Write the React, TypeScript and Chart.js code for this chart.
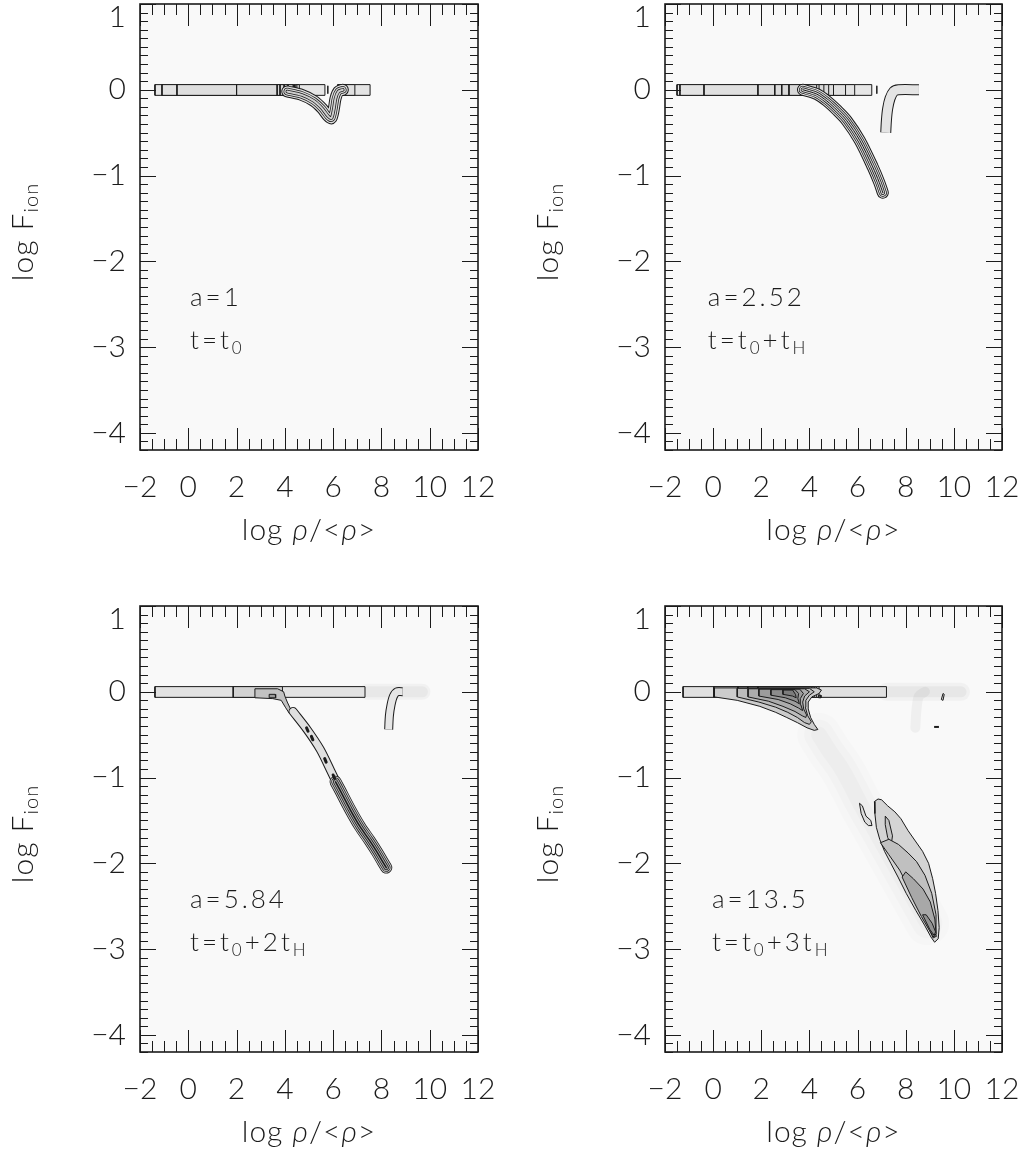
import React, { useEffect, useRef } from "react";
import { Chart, registerables } from "chart.js";

Chart.register(...registerables);

type Pt = [number, number];
type Seg = [string, string];

// ---------- axes ----------
const X_RANGE: [number, number] = [-2, 12];
const Y_RANGE: [number, number] = [-4.2, 1.0];
const X_TICK_VALUES = [-2, 0, 2, 4, 6, 8, 10, 12];
const X_TICK_LABELS = ["−2", "0", "2", "4", "6", "8", "10", "12"];
const Y_TICK_VALUES = [1, 0, -1, -2, -3, -4];
const Y_TICK_LABELS = ["1", "0", "−1", "−2", "−3", "−4"];
const X_MINOR_STEP = 0.5;
const Y_MINOR_STEP = 0.1;
const X_TITLE: Seg[] = [["log ", "n"], ["ρ", "i"], ["/<", "n"], ["ρ", "i"], [">", "n"]];
const Y_TITLE: Seg[] = [["log F", "n"], ["ion", "s"]];

// ---------- panel annotations ----------
const A_LABELS: Seg[][] = [[["a=1", "n"]], [["a=2.52", "n"]], [["a=5.84", "n"]], [["a=13.5", "n"]]];
const T_LABELS: Seg[][] = [
  [["t=t", "n"], ["0", "s"]],
  [["t=t", "n"], ["0", "s"], ["+t", "n"], ["H", "s"]],
  [["t=t", "n"], ["0", "s"], ["+2t", "n"], ["H", "s"]],
  [["t=t", "n"], ["0", "s"], ["+3t", "n"], ["H", "s"]],
];
const ANNOT_X = [0.07, -0.22, 0.07, -0.05];
const ANNOT_Y_A = -2.42;
const ANNOT_Y_T = -2.93;

// ---------- panel 1 (a=1) ----------
const P1_BAR: Pt = [-1.38, 5.66];
const P1_BAR_STEPS: Pt[] = [[-1.09, 4.6], [-0.47, 4.5], [2.0, 4.45], [3.68, 4.4], [3.8, 4.38], [3.97, 4.36], [4.13, 4.34]];
const P1_BAR_RIGHT: Pt = [6.2, 7.53];
const P1_BAR_RIGHT_STEP: Pt = [6.2, 6.9];
const P1_DIP: Pt[] = [[4.1, -0.02], [4.7, -0.06], [5.2, -0.13], [5.55, -0.22], [5.8, -0.31], [5.93, -0.33], [6.03, -0.22], [6.1, -0.1], [6.22, -0.02], [6.4, 0.0]];
const P1_MARK: Pt[] = [[5.78, 0.04], [5.78, -0.04]];

// ---------- panel 2 (a=2.52) ----------
const P2_BAR: Pt = [-1.5, 6.59];
const P2_BAR_STEPS: Pt[] = [[-1.38, 5.88], [-0.38, 5.5], [1.86, 5.0], [2.56, 4.8], [2.85, 4.6], [3.15, 4.4], [3.73, 4.3]];
const P2_DIAG: Pt[] = [[3.73, 0.0], [4.3, -0.05], [4.72, -0.13], [5.15, -0.24], [5.55, -0.36], [6.09, -0.59], [6.63, -0.9], [6.9, -1.08], [7.05, -1.2]];
const P2_HOOK: Pt[] = [[8.55, 0.0], [7.7, 0.0], [7.5, -0.02], [7.35, -0.1], [7.25, -0.22], [7.2, -0.35], [7.17, -0.5]];
const P2_MARK: Pt[] = [[6.8, 0.04], [6.8, -0.04]];

// ---------- panel 3 (a=5.84) ----------
const P3_BAR: Pt = [-1.38, 7.32];
const P3_INNER: Pt = [1.86, 3.9];
const P3_BLOB: Pt[] = [[2.76, 0.035], [3.7, 0.035], [3.95, 0.0], [4.0, -0.05], [4.1, -0.12], [4.25, -0.21], [4.18, -0.25], [4.02, -0.18], [3.85, -0.1], [3.5, -0.08], [2.76, -0.07]];
const P3_BLOB_CORE: Pt[] = [[3.35, -0.03], [3.6, -0.03], [3.62, -0.07], [3.35, -0.07]];
const P3_HAZE: Pt[] = [[7.4, 0.0], [9.7, 0.0]];
const P3_STREAK_UP: Pt[] = [[4.34, -0.23], [4.92, -0.44], [5.46, -0.67], [5.9, -0.92], [6.29, -1.15]];
const P3_STREAK_LOW: Pt[] = [[6.1, -1.05], [6.29, -1.15], [6.7, -1.37], [7.11, -1.57], [7.5, -1.73], [7.82, -1.87], [8.05, -1.98], [8.2, -2.05]];
const P3_STREAK_DOTS: Pt[] = [[4.9, -0.42], [5.1, -0.52], [5.65, -0.78], [6.0, -0.97]];
const P3_HOOK: Pt[] = [[8.88, 0.0], [8.65, 0.0], [8.5, -0.05], [8.4, -0.15], [8.33, -0.28], [8.3, -0.44]];

// ---------- panel 4 (a=13.5) ----------
const P4_BAR: Pt = [-1.25, 7.2];
const P4_BAR_STEPS: Pt[] = [[0.03, 4.4], [1.03, 4.3], [1.44, 4.2], [1.86, 4.1]];
const P4_FAN_1: Pt[] = [[0.05, -0.06], [1.0, -0.1], [1.94, -0.17], [2.6, -0.24], [3.06, -0.3], [3.5, -0.36], [3.9, -0.42], [4.2, -0.45], [4.35, -0.44], [4.2, -0.38], [4.05, -0.3], [3.95, -0.2], [3.95, -0.12], [4.1, -0.06], [4.4, -0.02], [4.5, 0.02], [4.3, 0.045], [0.05, 0.045]];
const P4_FAN_2: Pt[] = [[1.0, -0.06], [1.9, -0.12], [2.6, -0.18], [3.1, -0.24], [3.5, -0.3], [3.8, -0.36], [4.0, -0.38], [4.08, -0.35], [3.93, -0.28], [3.83, -0.18], [3.85, -0.1], [4.0, -0.04], [4.2, 0.0], [4.0, 0.04], [1.0, 0.04]];
const P4_FAN_3: Pt[] = [[1.45, -0.06], [2.3, -0.11], [2.9, -0.17], [3.4, -0.23], [3.7, -0.28], [3.85, -0.3], [3.88, -0.27], [3.76, -0.2], [3.72, -0.12], [3.8, -0.05], [4.0, 0.0], [3.8, 0.035], [1.45, 0.035]];
const P4_FAN_4: Pt[] = [[1.9, -0.05], [2.7, -0.09], [3.2, -0.14], [3.55, -0.19], [3.72, -0.22], [3.64, -0.15], [3.62, -0.08], [3.75, -0.02], [3.6, 0.03], [1.9, 0.03]];
const P4_FAN_5: Pt[] = [[2.4, -0.04], [3.0, -0.07], [3.4, -0.11], [3.58, -0.14], [3.52, -0.08], [3.55, -0.02], [3.4, 0.025], [2.4, 0.025]];
const P4_FAN_6: Pt[] = [[2.9, -0.03], [3.3, -0.05], [3.45, -0.07], [3.42, -0.03], [3.3, 0.02], [2.9, 0.02]];
const P4_DOT: Pt[] = [[4.38, -0.04], [4.48, -0.04], [4.48, -0.07], [4.38, -0.07]];
const P4_HAZE_RIGHT: Pt[] = [[7.2, 0.0], [10.3, 0.0]];
const P4_HAZE_HOOK: Pt[] = [[8.8, 0.0], [8.55, -0.05], [8.45, -0.2], [8.4, -0.42]];
const P4_CLOUD: Pt[] = [[4.4, -0.5], [4.8, -0.68], [5.3, -0.88], [5.7, -1.08], [6.1, -1.3], [6.7, -1.6], [7.4, -1.95], [8.2, -2.35], [8.9, -2.7]];
const P4_ISLAND_L: Pt[] = [[6.08, -1.3], [6.2, -1.33], [6.35, -1.45], [6.55, -1.5], [6.6, -1.56], [6.45, -1.56], [6.3, -1.52], [6.15, -1.42]];
const P4_BLOB_1: Pt[] = [[6.7, -1.28], [6.72, -1.42], [6.78, -1.58], [6.92, -1.72], [7.12, -1.86], [7.38, -2.0], [7.68, -2.16], [8.02, -2.35], [8.42, -2.55], [8.78, -2.72], [9.05, -2.86], [9.2, -2.92], [9.35, -2.88], [9.39, -2.75], [9.34, -2.55], [9.24, -2.35], [9.12, -2.18], [8.95, -2.0], [8.7, -1.86], [8.4, -1.74], [8.1, -1.62], [7.8, -1.48], [7.55, -1.4], [7.25, -1.33], [7.0, -1.26], [6.85, -1.25]];
const P4_ISLAND_M: Pt[] = [[7.15, -1.45], [7.3, -1.5], [7.45, -1.68], [7.4, -1.78], [7.25, -1.7], [7.15, -1.55]];
const P4_BLOB_2: Pt[] = [[6.95, -1.76], [7.3, -1.9], [7.75, -2.08], [8.15, -2.3], [8.55, -2.53], [8.92, -2.74], [9.14, -2.87], [9.28, -2.85], [9.26, -2.6], [9.08, -2.35], [8.8, -2.14], [8.45, -1.98], [8.1, -1.88], [7.7, -1.78], [7.3, -1.72]];
const P4_BLOB_3: Pt[] = [[7.85, -2.16], [8.25, -2.4], [8.65, -2.62], [8.98, -2.78], [9.17, -2.86], [9.26, -2.82], [9.21, -2.65], [9.02, -2.45], [8.72, -2.3], [8.32, -2.18], [8.0, -2.1]];
const P4_BLOB_4: Pt[] = [[8.7, -2.6], [9.0, -2.77], [9.18, -2.84], [9.24, -2.8], [9.1, -2.7], [8.85, -2.6]];
const P4_SMALL_LOOP: Pt[] = [[9.48, -0.09], [9.55, -0.02], [9.6, -0.03], [9.55, -0.1]];
const P4_DASH: Pt[] = [[9.18, -0.41], [9.38, -0.41]];

// ---------- styles ----------
const W = 1031;
const H = 1156;
const BOXES = [
  { left: 140, top: 4, right: 478, bottom: 450 },
  { left: 665, top: 4, right: 1002, bottom: 450 },
  { left: 140, top: 606, right: 478, bottom: 1052 },
  { left: 665, top: 606, right: 1002, bottom: 1052 },
];
const INK = "#1b1b1b";
const PLOT_BG = "#f9f9f9";
const FAM = 'Lato, "DejaVu Sans", sans-serif';
const FW = "300";
const BAR_HALF_LO = -0.065;
const BAR_HALF_HI = 0.06;

const toXY = (pts: Pt[]) => pts.map(([x, y]) => ({ x, y }));
const rect = (x0: number, x1: number, y0: number, y1: number): Pt[] => [[x0, y0], [x1, y0], [x1, y1], [x0, y1]];

function poly(pts: Pt[], fillColor: string, lw = 1, stroke = INK): any {
  return {
    data: toXY([...pts, pts[0]]),
    fill: "shape",
    backgroundColor: fillColor,
    borderColor: stroke,
    borderWidth: lw,
    pointRadius: 0,
    tension: 0,
  };
}
function band(pts: Pt[], layers: [number, string][], cap = "round", tension = 0.3): any[] {
  return layers.map(([w, c]) => ({
    data: toXY(pts),
    fill: false,
    borderColor: c,
    borderWidth: w,
    borderCapStyle: cap,
    borderJoinStyle: "round",
    pointRadius: 0,
    tension,
  }));
}
const barRect = (r: Pt, fillColor: string) => poly(rect(r[0], r[1], BAR_HALF_LO, BAR_HALF_HI), fillColor);

function panel1(): any[] {
  const ds: any[] = [];
  ds.push(barRect(P1_BAR, "#e6e6e6"));
  const fills = ["#e2e2e2", "#dedede", "#dadada", "#d8d8d8", "#d6d6d6", "#d4d4d4", "#d2d2d2"];
  P1_BAR_STEPS.forEach((s, i) => ds.push(barRect(s, fills[i])));
  ds.push(barRect(P1_BAR_RIGHT, "#e4e4e4"));
  ds.push(barRect(P1_BAR_RIGHT_STEP, "#e0e0e0"));
  ds.push(...band(P1_DIP, [[12, INK], [10, "#e0e0e0"], [7.5, INK], [6, "#d6d6d6"], [3.5, INK], [2, "#cfcfcf"]]));
  ds.push(...band(P1_MARK, [[1.5, INK]], "butt", 0));
  return ds;
}
function panel2(): any[] {
  const ds: any[] = [];
  ds.push(barRect(P2_BAR, "#e6e6e6"));
  const fills = ["#e3e3e3", "#e0e0e0", "#dddddd", "#dbdbdb", "#d9d9d9", "#d7d7d7", "#d5d5d5"];
  P2_BAR_STEPS.forEach((s, i) => ds.push(barRect(s, fills[i])));
  ds.push(...band(P2_DIAG, [[12, INK], [10, "#e2e2e2"], [8, INK], [6.5, "#dadada"], [4.5, INK], [3, "#d2d2d2"], [1, INK]]));
  ds.push(...band(P2_HOOK, [[11, INK], [9, "#e4e4e4"]], "butt", 0.3));
  ds.push(...band(P2_MARK, [[1.5, INK]], "butt", 0));
  return ds;
}
function panel3(): any[] {
  const ds: any[] = [];
  ds.push(...band(P3_HAZE, [[16, "rgba(0,0,0,0.03)"], [11, "rgba(0,0,0,0.035)"]], "round", 0));
  ds.push(barRect(P3_BAR, "#e2e2e2"));
  ds.push(barRect(P3_INNER, "#d2d2d2"));
  ds.push(poly(P3_BLOB, "#c2c2c2"));
  ds.push(poly(P3_BLOB_CORE, "#9a9a9a"));
  ds.push(...band(P3_STREAK_UP, [[9, INK], [7, "#e0e0e0"]], "round", 0.3));
  ds.push(...band(P3_STREAK_LOW, [[12, INK], [10.5, "#cccccc"], [8.5, INK], [7, "#b9b9b9"], [5, INK], [3.5, "#a8a8a8"], [1.5, INK]], "round", 0.3));
  P3_STREAK_DOTS.forEach((p) => ds.push(...band([p, [p[0] + 0.06, p[1] - 0.04]], [[3, INK]], "round", 0)));
  ds.push(...band(P3_HOOK, [[9, INK], [7, "#e6e6e6"]], "butt", 0.3));
  return ds;
}
function panel4(): any[] {
  const ds: any[] = [];
  ds.push(...band(P4_HAZE_RIGHT, [[18, "rgba(0,0,0,0.03)"], [11, "rgba(0,0,0,0.04)"]], "round", 0));
  ds.push(...band(P4_HAZE_HOOK, [[10, "rgba(0,0,0,0.04)"]], "round", 0.3));
  ds.push(...band(P4_CLOUD, [[44, "rgba(0,0,0,0.012)"], [30, "rgba(0,0,0,0.015)"], [16, "rgba(0,0,0,0.018)"]], "round", 0.3));
  ds.push(barRect(P4_BAR, "#e0e0e0"));
  const fills = ["#d4d4d4", "#c6c6c6", "#b8b8b8", "#a8a8a8"];
  P4_BAR_STEPS.forEach((s, i) => ds.push(barRect(s, fills[i])));
  ds.push(poly(P4_FAN_1, "#cccccc"));
  ds.push(poly(P4_FAN_2, "#bcbcbc"));
  ds.push(poly(P4_FAN_3, "#acacac"));
  ds.push(poly(P4_FAN_4, "#9c9c9c"));
  ds.push(poly(P4_FAN_5, "#8c8c8c"));
  ds.push(poly(P4_FAN_6, "#7c7c7c"));
  ds.push(poly(P4_DOT, "#555555"));
  ds.push(poly(P4_ISLAND_L, "#dcdcdc"));
  ds.push(poly(P4_BLOB_1, "#d4d4d4"));
  ds.push(poly(P4_ISLAND_M, "#c4c4c4"));
  ds.push(poly(P4_BLOB_2, "#c0c0c0"));
  ds.push(poly(P4_BLOB_3, "#a8a8a8"));
  ds.push(poly(P4_BLOB_4, "#929292"));
  ds.push(poly(P4_SMALL_LOOP, "#e0e0e0"));
  ds.push(...band(P4_DASH, [[2, INK]], "butt", 0));
  return ds;
}
const PANELS = [panel1, panel2, panel3, panel4];

function drawRich(ctx: CanvasRenderingContext2D, segs: Seg[], x: number, y: number, size: number, align: "left" | "center", spacing = 0) {
  const sub = Math.round(size * 0.66);
  const fontFor = (k: string) =>
    k === "s" ? `${FW} ${sub}px ${FAM}` : k === "i" ? `italic ${FW} ${size}px ${FAM}` : `${FW} ${size}px ${FAM}`;
  (ctx as any).letterSpacing = `${spacing}px`;
  let total = 0;
  for (const [t, k] of segs) {
    ctx.font = fontFor(k);
    total += ctx.measureText(t).width;
  }
  let cx = align === "center" ? x - total / 2 : x;
  ctx.textAlign = "left";
  ctx.textBaseline = "middle";
  for (const [t, k] of segs) {
    ctx.font = fontFor(k);
    ctx.fillText(t, cx, k === "s" ? y + size * 0.3 : y);
    cx += ctx.measureText(t).width;
  }
  (ctx as any).letterSpacing = "0px";
}

function makeDecor(idx: number) {
  return {
    id: "decor" + idx,
    beforeDatasetsDraw(chart: any) {
      const { ctx, chartArea } = chart;
      ctx.save();
      ctx.fillStyle = PLOT_BG;
      ctx.fillRect(chartArea.left, chartArea.top, chartArea.width, chartArea.height);
      ctx.restore();
    },
    afterDraw(chart: any) {
      const { ctx, chartArea } = chart;
      const { left, right, top, bottom } = chartArea;
      const xs = chart.scales.x;
      const ys = chart.scales.y;
      ctx.save();
      ctx.strokeStyle = INK;
      ctx.lineWidth = 1;
      ctx.beginPath();
      for (let v = X_RANGE[0]; v <= X_RANGE[1] + 1e-9; v += X_MINOR_STEP) {
        const px = Math.round(xs.getPixelForValue(v)) + 0.5;
        const major = Math.abs(v / 2 - Math.round(v / 2)) < 1e-6;
        const len = major ? 22 : 11;
        ctx.moveTo(px, bottom);
        ctx.lineTo(px, bottom - len);
        ctx.moveTo(px, top);
        ctx.lineTo(px, top + len);
      }
      for (let v = Y_RANGE[0]; v <= Y_RANGE[1] + 1e-9; v += Y_MINOR_STEP) {
        const py = Math.round(ys.getPixelForValue(v)) + 0.5;
        const major = Math.abs(v - Math.round(v)) < 1e-6;
        const len = major ? 16 : 8;
        ctx.moveTo(left, py);
        ctx.lineTo(left + len, py);
        ctx.moveTo(right, py);
        ctx.lineTo(right - len, py);
      }
      ctx.stroke();
      ctx.lineWidth = 1.6;
      ctx.strokeRect(left, top, right - left, bottom - top);

      ctx.fillStyle = INK;
      ctx.font = `${FW} 30px ${FAM}`;
      ctx.textBaseline = "middle";
      ctx.textAlign = "center";
      X_TICK_VALUES.forEach((v, i) => {
        ctx.fillText(X_TICK_LABELS[i], xs.getPixelForValue(v), bottom + 37);
      });
      ctx.textAlign = "right";
      Y_TICK_VALUES.forEach((v, i) => {
        const py = Math.max(ys.getPixelForValue(v), top + 13);
        ctx.fillText(Y_TICK_LABELS[i], left - 14, py);
      });
      drawRich(ctx, X_TITLE, (left + right) / 2, bottom + 80, 30, "center", 1);
      ctx.save();
      ctx.translate(left - 117, (top + bottom) / 2 + 5);
      ctx.rotate(-Math.PI / 2);
      drawRich(ctx, Y_TITLE, 0, 0, 30, "center", 1);
      ctx.restore();

      const ax = xs.getPixelForValue(ANNOT_X[idx]);
      drawRich(ctx, A_LABELS[idx], ax, ys.getPixelForValue(ANNOT_Y_A), 26, "left", 3);
      drawRich(ctx, T_LABELS[idx], ax, ys.getPixelForValue(ANNOT_Y_T), 26, "left", 3);
      ctx.restore();
    },
  };
}

function Panel({ idx }: { idx: number }) {
  const ref = useRef<HTMLCanvasElement | null>(null);
  useEffect(() => {
    if (!ref.current) return;
    const box = BOXES[idx];
    const list = PANELS[idx]();
    const n = list.length;
    const datasets = list.map((d, i) => ({ ...d, order: n - i }));
    const chart = new Chart(ref.current, {
      type: "line",
      data: { datasets },
      options: {
        animation: false,
        responsive: false,
        maintainAspectRatio: false,
        events: [],
        layout: { padding: { left: box.left, top: box.top, right: W - box.right, bottom: H - box.bottom } },
        scales: {
          x: { type: "linear", min: X_RANGE[0], max: X_RANGE[1], display: false },
          y: { type: "linear", min: Y_RANGE[0], max: Y_RANGE[1], display: false },
        },
        plugins: { legend: { display: false }, tooltip: { enabled: false } },
      },
      plugins: [makeDecor(idx)],
    } as any);
    return () => chart.destroy();
  }, [idx]);
  return <canvas ref={ref} width={W} height={H} style={{ position: "absolute", left: 0, top: 0, width: W, height: H }} />;
}

export default function App() {
  return (
    <div style={{ position: "absolute", left: 0, top: 0, width: W, height: H, background: "#ffffff" }}>
      {[0, 1, 2, 3].map((i) => (
        <Panel key={i} idx={i} />
      ))}
    </div>
  );
}
